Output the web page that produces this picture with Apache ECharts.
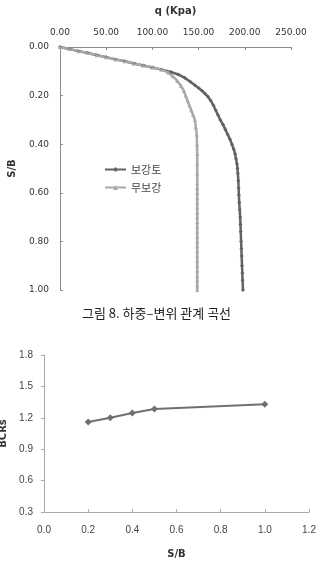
<!DOCTYPE html>
<html>
<head>
<meta charset="utf-8">
<script src="https://cdn.jsdelivr.net/npm/echarts@6/dist/echarts.min.js"></script>
<style>
  html, body { margin: 0; padding: 0; background: #fff; }
  #chart { width: 320px; height: 570px; }
</style>
</head>
<body>
<div id="chart"></div>
<script>
// 하중-변위 곡선 (q in kPa, S/B)
var reinforcedQ = [0, 10, 20, 30, 40, 50, 60, 70, 80, 90,
  100, 110, 120, 128, 135, 141, 146, 150, 154, 157,
  160, 163, 166, 168.5, 171, 173.5, 176.5, 179, 181.5, 184,
  186, 188, 189.5, 190.5, 191.5, 192, 192.5, 193, 193.3, 193.6,
  194, 194.5, 195, 195.3, 195.6, 196, 196.3, 196.6, 197, 197.3,
  197.6, 198];
var reinforcedS = [0, 0.008, 0.017, 0.025, 0.034, 0.042, 0.051, 0.059, 0.068, 0.076,
  0.084, 0.093, 0.103, 0.113, 0.127, 0.143, 0.157, 0.169, 0.181, 0.192,
  0.204, 0.22, 0.24, 0.26, 0.28, 0.3, 0.32, 0.34, 0.36, 0.38,
  0.4, 0.42, 0.44, 0.46, 0.48, 0.5, 0.52, 0.55, 0.58, 0.61,
  0.64, 0.67, 0.7, 0.73, 0.76, 0.8, 0.83, 0.86, 0.9, 0.93,
  0.96, 1.0];

var unreinforcedQ = [0, 10, 20, 30, 40, 50, 60, 70, 80, 90,
  100, 110, 117, 122, 127, 131, 134, 136, 138, 140,
  142, 144, 146, 147, 148, 148.3, 148.5, 148.5, 148.5, 148.5,
  148.5, 148.5, 148.5, 148.5, 148.5, 148.5, 148.5, 148.5, 148.5, 148.5,
  148.5, 148.5, 148.5, 148.5, 148.5, 148.5, 148.5, 148.5, 148.5, 148.5,
  148.5, 148.5];
var unreinforcedS = [0, 0.008, 0.017, 0.025, 0.034, 0.042, 0.051, 0.059, 0.068, 0.076,
  0.084, 0.093, 0.105, 0.12, 0.14, 0.16, 0.18, 0.2, 0.22, 0.24,
  0.26, 0.28, 0.3, 0.33, 0.36, 0.4, 0.44, 0.48, 0.52, 0.56,
  0.58, 0.6, 0.62, 0.64, 0.66, 0.68, 0.7, 0.72, 0.74, 0.76,
  0.78, 0.8, 0.82, 0.84, 0.86, 0.88, 0.9, 0.92, 0.94, 0.96,
  0.98, 1.0];

// BCRs vs S/B
var ratioSB = [0.2, 0.3, 0.4, 0.5, 1.0];
var bcrValues = [1.16, 1.2, 1.245, 1.285, 1.33];

var seriesNames = ['보강토', '무보강'];
var caption = '그림 8. 하중–변위 관계 곡선';

function pairs(xs, ys) {
  return xs.map(function (x, i) { return [x, ys[i]]; });
}

var numFont = 'DejaVu Sans';
var axisGrey = '#8c8c8c';

var myChart = echarts.init(document.getElementById('chart'));

var option = {
  animation: false,
  backgroundColor: '#fff',
  title: {
    text: caption, left: 77, top: 302,
    textStyle: {fontFamily: 'Noto Sans CJK KR', fontSize: 13, fontWeight: 'normal', color: '#222'}
  },
  legend: {
    data: seriesNames, orient: 'vertical', left: 104, top: 164,
    itemWidth: 21, itemHeight: 6, itemGap: 7, padding: 0,
    textStyle: {fontFamily: 'Noto Sans CJK KR', fontSize: 11, color: '#444'}
  },
  grid: [
    {left: 60, right: 29, top: 47, bottom: 280, outerBoundsMode: 'none'},
    {left: 44, right: 11, top: 355, bottom: 58, outerBoundsMode: 'none'}
  ],
  xAxis: [{
    gridIndex: 0, type: 'value', position: 'top', min: 0, max: 250, interval: 50,
    name: 'q (Kpa)', nameLocation: 'middle', nameGap: 31,
    nameTextStyle: {fontFamily: numFont, fontSize: 10, fontWeight: 'bold', color: '#333'},
    axisLine: {show: true, lineStyle: {color: axisGrey}},
    axisTick: {show: true, inside: true, length: 3, lineStyle: {color: axisGrey}},
    axisLabel: {fontFamily: numFont, fontSize: 9, color: '#333', margin: 10,
      formatter: function (v) { return v.toFixed(2); }},
    splitLine: {show: false}
  }, {
    gridIndex: 1, type: 'value', min: 0, max: 1.2, interval: 0.2,
    name: 'S/B', nameLocation: 'middle', nameGap: 37,
    nameTextStyle: {fontFamily: numFont, fontSize: 10, fontWeight: 'bold', color: '#333'},
    axisLine: {show: true, lineStyle: {color: '#aaa'}},
    axisTick: {show: true, inside: true, length: 3, lineStyle: {color: '#aaa'}},
    axisLabel: {fontFamily: 'Liberation Sans', fontSize: 10, color: '#444', margin: 13,
      formatter: function (v) { return v.toFixed(1); }},
    splitLine: {show: false}
  }],
  yAxis: [{
    gridIndex: 0, type: 'value', inverse: true, min: 0, max: 1, interval: 0.2,
    name: 'S/B', nameLocation: 'middle', nameGap: 43,
    nameTextStyle: {fontFamily: numFont, fontSize: 10, fontWeight: 'bold', color: '#333'},
    axisLine: {show: true, lineStyle: {color: axisGrey}},
    axisTick: {show: true, inside: true, length: 3, lineStyle: {color: axisGrey}},
    axisLabel: {fontFamily: numFont, fontSize: 9, color: '#333', margin: 11,
      formatter: function (v) { return v.toFixed(2); }},
    splitLine: {show: false}
  }, {
    gridIndex: 1, type: 'value', min: 0.3, max: 1.8, interval: 0.3,
    name: 'BCRs', nameLocation: 'middle', nameGap: 36,
    nameTextStyle: {fontFamily: numFont, fontSize: 10, fontWeight: 'bold', color: '#333'},
    axisLine: {show: true, lineStyle: {color: '#aaa'}},
    axisTick: {show: true, length: 3, lineStyle: {color: '#aaa'}},
    axisLabel: {fontFamily: 'Liberation Sans', fontSize: 10, color: '#444', margin: 11,
      formatter: function (v) { return v.toFixed(1); }},
    splitLine: {show: false}
  }],
  series: [{
    name: seriesNames[0], type: 'line', xAxisIndex: 0, yAxisIndex: 0,
    data: pairs(reinforcedQ, reinforcedS),
    symbol: 'diamond', symbolSize: 4, showAllSymbol: true,
    lineStyle: {color: '#636363', width: 2.5},
    itemStyle: {color: '#636363'}
  }, {
    name: seriesNames[1], type: 'line', xAxisIndex: 0, yAxisIndex: 0,
    data: pairs(unreinforcedQ, unreinforcedS),
    symbol: 'triangle', symbolSize: 4, showAllSymbol: true,
    lineStyle: {color: '#a9a9a9', width: 2.5},
    itemStyle: {color: '#a9a9a9'}
  }, {
    name: 'BCRs', type: 'line', xAxisIndex: 1, yAxisIndex: 1,
    data: pairs(ratioSB, bcrValues),
    symbol: 'diamond', symbolSize: 7,
    lineStyle: {color: '#707070', width: 2},
    itemStyle: {color: '#707070'}
  }]
};

myChart.setOption(option);
</script>
</body>
</html>
